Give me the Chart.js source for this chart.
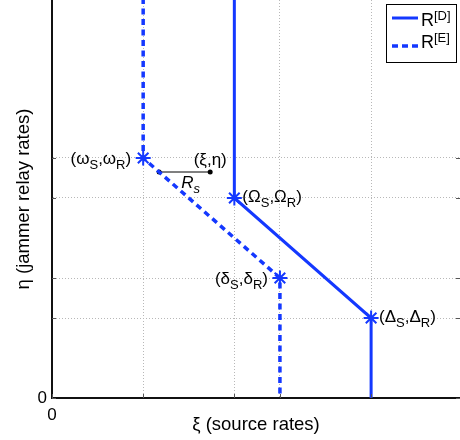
<!DOCTYPE html>
<html><head><meta charset="utf-8">
<script src="https://cdn.jsdelivr.net/npm/chart.js@4/dist/chart.umd.min.js"></script>
<style>html,body{margin:0;padding:0;background:#fff}#c{display:block}</style>
</head><body>
<canvas id="c" width="460" height="440"></canvas>
<script>
const seriesNames = ['R^{[D]}', 'R^{[E]}'];
const xD = [4, 4, 7, 7];
const yD = [10, 5, 2, 0];
const xE = [2, 2, 5, 5];
const yE = [10, 6, 3, 0];
const labelsD = [null, '(Ω_{S},Ω_{R})', '(Δ_{S},Δ_{R})', null];
const labelsE = [null, '(ω_{S},ω_{R})', '(δ_{S},δ_{R})', null];
const segX = [2.35, 3.47];
const segY = [5.65, 5.65];
const segPointLabel = '(ξ,η)';
const segName = 'R_{s}';
const xTicks = [0, 2, 4, 5, 7];
const yTicks = [0, 2, 3, 5, 6];
const xTickLabels = ['0', '', '', '', ''];
const yTickLabels = ['0', '', '', '', ''];
const xRange = [0, 8.95];
const yRange = [0, 9.95];
const xTitle = 'ξ (source rates)';
const yTitle = 'η (jammer relay rates)';

const FONT = "'Liberation Sans', Arial, Helvetica, sans-serif";
const BLUE = '#1438ff';
Chart.defaults.font.family = FONT;
Chart.defaults.color = '#000';

function pts(xs, ys) { return xs.map((x, i) => ({ x: x, y: ys[i] })); }

function parseRich(str) {
  const out = []; const re = /([_^])\{([^}]*)\}|([^_^]+)/g; let m;
  while ((m = re.exec(str)) !== null) {
    if (m[3] !== undefined) out.push({ t: m[3], k: 'n' });
    else out.push({ t: m[2], k: m[1] === '_' ? 'sub' : 'sup' });
  }
  return out;
}
function drawRich(ctx, str, x, y, align, size, small, italic) {
  const parts = parseRich(str);
  const st = italic ? 'italic ' : '';
  const fn = k => st + (k === 'n' ? size : small) + 'px ' + FONT;
  let w = 0;
  parts.forEach(p => { ctx.font = fn(p.k); p.w = ctx.measureText(p.t).width; w += p.w; });
  let cx = align === 'right' ? x - w : (align === 'center' ? x - w / 2 : x);
  ctx.textBaseline = 'middle'; ctx.textAlign = 'left'; ctx.fillStyle = '#000';
  parts.forEach(p => {
    ctx.font = fn(p.k);
    const dy = p.k === 'sub' ? 6 : (p.k === 'sup' ? -5.5 : 0);
    ctx.fillText(p.t, cx, y + dy);
    cx += p.w;
  });
}

const annot = {
  id: 'annot',
  afterDatasetsDraw(chart) {
    const ctx = chart.ctx, xs = chart.scales.x, ys = chart.scales.y, a = chart.chartArea;
    ctx.save();
    // inner tick marks
    ctx.strokeStyle = '#555'; ctx.lineWidth = 1;
    xTicks.forEach(v => { const px = Math.round(xs.getPixelForValue(v)) + 0.5;
      ctx.beginPath(); ctx.moveTo(px, a.bottom); ctx.lineTo(px, a.bottom - 4); ctx.stroke(); });
    yTicks.forEach(v => { const py = Math.round(ys.getPixelForValue(v)) + 0.5;
      ctx.beginPath(); ctx.moveTo(a.left, py); ctx.lineTo(a.left + 4, py);
      ctx.moveTo(a.right, py); ctx.lineTo(a.right - 4, py); ctx.stroke(); });
    // corner labels
    labelsD.forEach((l, i) => { if (!l) return;
      drawRich(ctx, l, xs.getPixelForValue(xD[i]) + 8, ys.getPixelForValue(yD[i]) - 1, 'left', 17, 13); });
    labelsE.forEach((l, i) => { if (!l) return;
      drawRich(ctx, l, xs.getPixelForValue(xE[i]) - 12, ys.getPixelForValue(yE[i]) + 1, 'right', 17, 13); });
    // segment labels
    drawRich(ctx, segPointLabel, xs.getPixelForValue(segX[1]), ys.getPixelForValue(segY[1]) - 12, 'center', 17, 13);
    const mx = (xs.getPixelForValue(segX[0]) + xs.getPixelForValue(segX[1])) / 2;
    drawRich(ctx, segName, mx + 6, ys.getPixelForValue(segY[0]) + 11, 'center', 17, 13, true);
    // legend
    const lx = 386.5, ly = 4.5, lw = 70, lh = 58;
    ctx.fillStyle = '#fff'; ctx.fillRect(lx, ly, lw, lh);
    ctx.strokeStyle = '#000'; ctx.lineWidth = 1; ctx.strokeRect(lx, ly, lw, lh);
    const rows = [{ y: 18, ty: 21.5 }, { y: 46, ty: 43.5 }];
    chart.data.datasets.slice(0, 2).forEach((ds, i) => {
      ctx.save(); ctx.strokeStyle = ds.borderColor; ctx.lineWidth = ds.borderWidth;
      ctx.setLineDash(i === 1 ? [6, 4] : []);
      ctx.beginPath(); ctx.moveTo(392, rows[i].y); ctx.lineTo(418, rows[i].y); ctx.stroke(); ctx.restore();
      drawRich(ctx, seriesNames[i], 421, rows[i].ty, 'left', 18, 13);
    });
    ctx.restore();
  }
};

const starR = labels => (c => labels[c.dataIndex] ? 7.5 : 0);
const noPad = s => { s.paddingTop = 0; s.paddingBottom = 0; s.paddingLeft = 0; s.paddingRight = 0; };

new Chart(document.getElementById('c'), {
  type: 'scatter',
  data: {
    datasets: [
      { label: seriesNames[0], data: pts(xD, yD), showLine: true, borderColor: BLUE, backgroundColor: BLUE,
        borderWidth: 3, pointStyle: 'star', pointRadius: starR(labelsD), pointBorderWidth: 2, pointBorderColor: BLUE },
      { label: seriesNames[1], data: pts(xE, yE), showLine: true, borderColor: BLUE, backgroundColor: BLUE,
        borderWidth: 3.5, borderDash: [6, 4.5], pointStyle: 'star', pointRadius: starR(labelsE), pointBorderWidth: 2, pointBorderColor: BLUE },
      { label: segName, data: pts(segX, segY), showLine: true, borderColor: '#000', backgroundColor: '#000',
        borderWidth: 1, pointStyle: 'circle', pointRadius: 2.5, pointBorderWidth: 0 }
    ]
  },
  options: {
    responsive: false, animation: false, events: [],
    layout: { padding: 0, autoPadding: false },
    plugins: { legend: { display: false }, tooltip: { enabled: false } },
    scales: {
      x: {
        type: 'linear', min: xRange[0], max: xRange[1],
        afterBuildTicks: s => { s.ticks = xTicks.map(v => ({ value: v })); },
        afterFit: s => { s.height = 42; noPad(s); },
        ticks: { callback: (v, i) => xTickLabels[i], font: { size: 17 }, padding: 7, maxRotation: 0, autoSkip: false },
        grid: { color: '#b8b8b8', lineWidth: 1, drawTicks: false },
        border: { display: true, color: '#111', width: 2, dash: [1, 2] },
        title: { display: true, text: xTitle, font: { size: 18.5 }, padding: { top: 0, bottom: 4 } }
      },
      y: {
        type: 'linear', min: yRange[0], max: yRange[1],
        afterBuildTicks: s => { s.ticks = yTicks.map(v => ({ value: v })); },
        afterFit: s => { s.width = 52; noPad(s); },
        ticks: { callback: (v, i) => yTickLabels[i], font: { size: 17 }, padding: 5, autoSkip: false },
        grid: { color: '#b8b8b8', lineWidth: 1, drawTicks: false },
        border: { display: true, color: '#111', width: 2, dash: [1, 2] },
        title: { display: true, text: yTitle, font: { size: 18.5 }, padding: { top: 13, bottom: 0 } }
      }
    }
  },
  plugins: [annot]
});
</script>
</body></html>
